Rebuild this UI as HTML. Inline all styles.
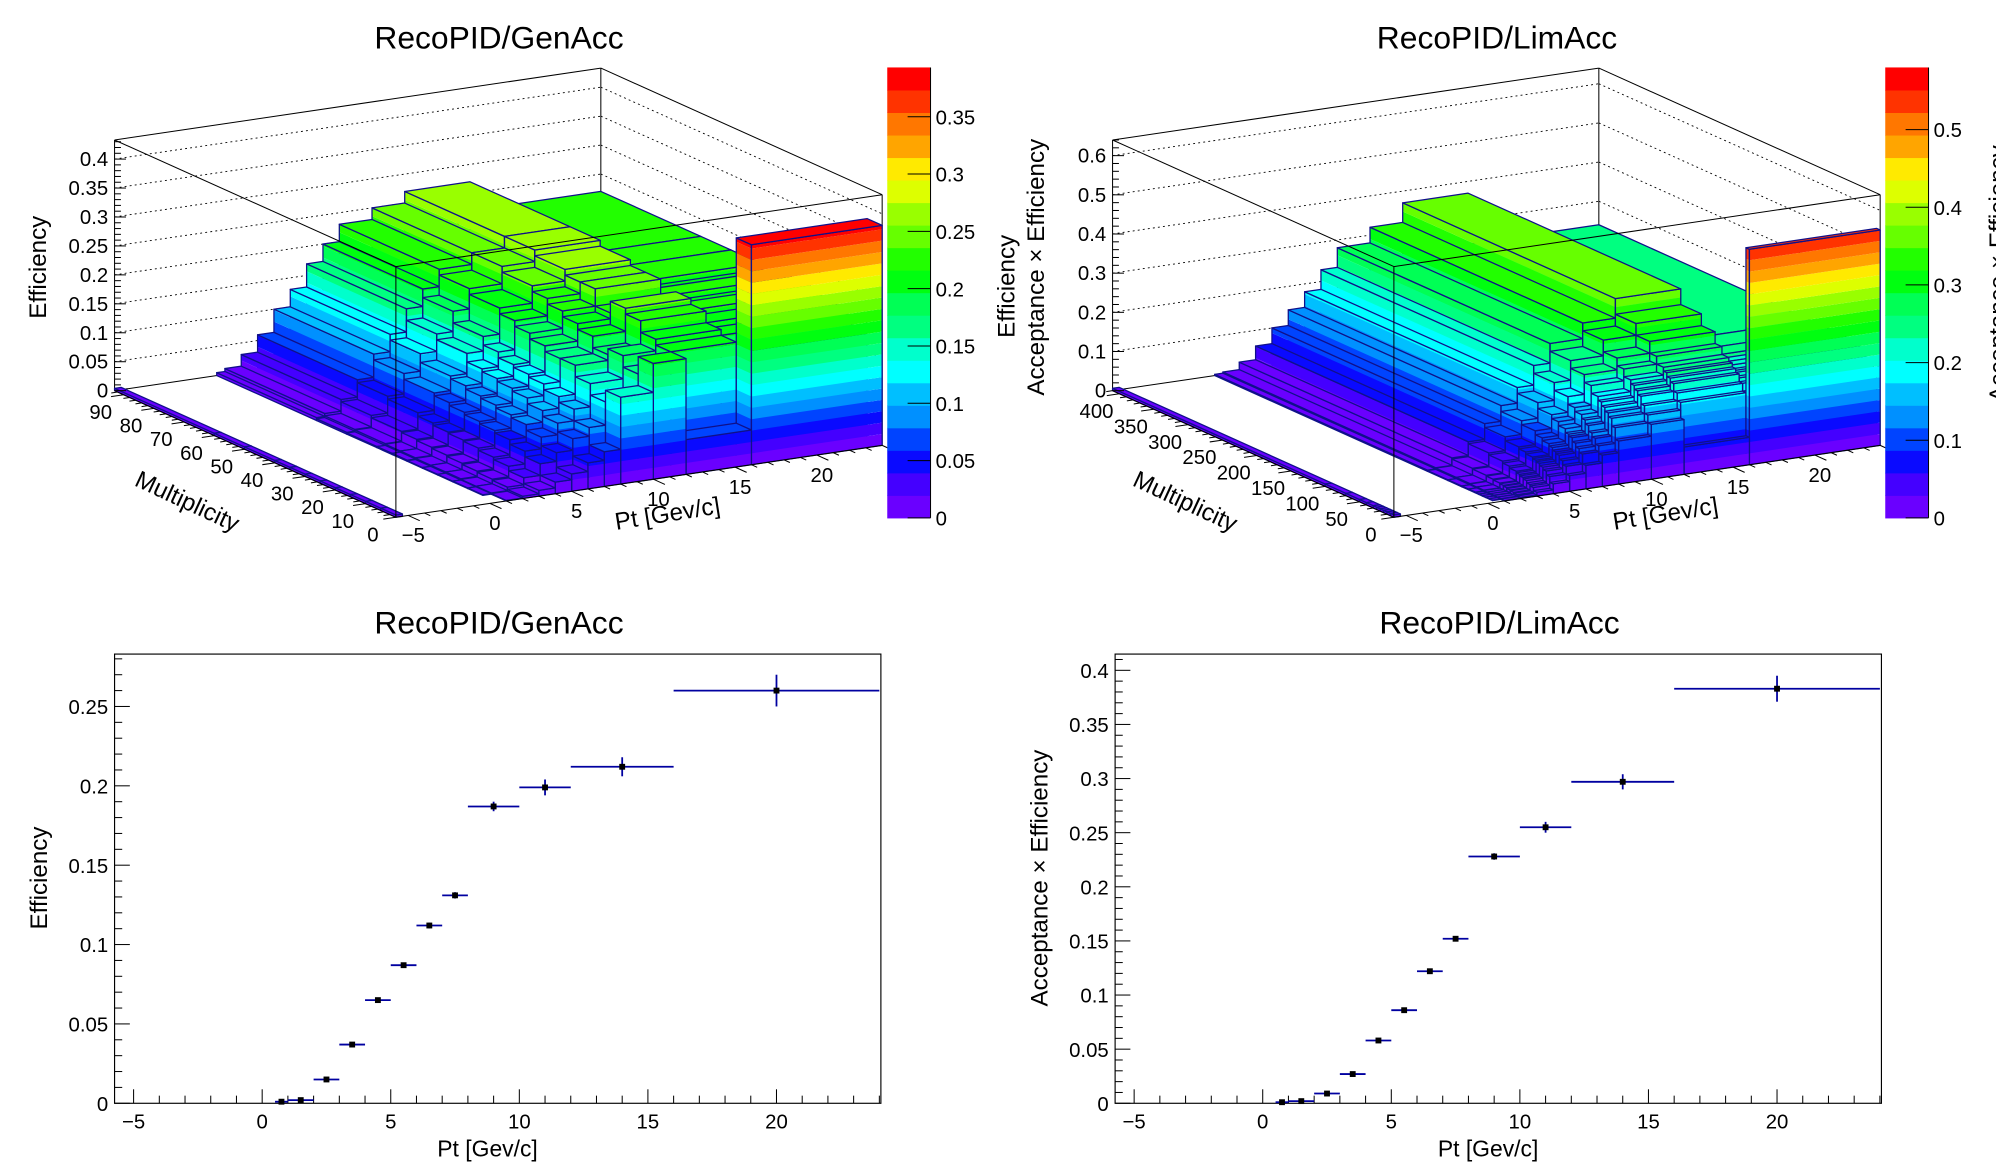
<!DOCTYPE html>
<html><head><meta charset="utf-8"><title>RecoPID efficiency</title>
<style>
html,body{margin:0;padding:0;background:#fff;}
svg{display:block;}
text{font-family:"Liberation Sans",Arial,sans-serif;fill:#000;}
</style></head>
<body>
<svg id="canvas" width="1996" height="1172" viewBox="0 0 1568 921" preserveAspectRatio="none" xmlns="http://www.w3.org/2000/svg">
<rect x="0" y="0" width="1568" height="921" fill="#fff"/>
<g id="pad-tl"></g>
<g id="pad-tr"></g>
<g id="pad-bl"></g>
<g id="pad-br"></g>
</svg>
<script>
// ---------------- data ----------------
const ptEdges3D = [-5.75,-5.35,0.5,1,2,3,4,5,6,7,8,10,12,16,24];
const multEdgesGen = [0,5,10,15,20,25,30,35,40,50,60,93];
const effGen = [
 [0.004,0,0.000,0.001,0.004,0.010,0.020,0.030,0.045,0.060,0.150,0.200,0.060,0.380],
 [0.004,0,0.001,0.002,0.008,0.020,0.040,0.055,0.075,0.090,0.130,0.170,0.200,0.180],
 [0.004,0,0.001,0.002,0.010,0.028,0.050,0.070,0.090,0.110,0.150,0.190,0.210,0.200],
 [0.004,0,0.001,0.003,0.012,0.032,0.058,0.080,0.100,0.120,0.170,0.180,0.230,0.210],
 [0.004,0,0.001,0.003,0.014,0.036,0.062,0.085,0.110,0.130,0.170,0.200,0.240,0.220],
 [0.004,0,0.001,0.003,0.016,0.038,0.066,0.090,0.115,0.135,0.180,0.210,0.220,0.210],
 [0.004,0,0.002,0.004,0.018,0.040,0.070,0.094,0.120,0.140,0.190,0.220,0.250,0.220],
 [0.004,0,0.002,0.004,0.020,0.044,0.075,0.100,0.125,0.150,0.200,0.230,0.250,0.210],
 [0.004,0,0.002,0.005,0.022,0.050,0.080,0.105,0.140,0.165,0.210,0.240,0.260,0.220],
 [0.004,0,0.003,0.006,0.026,0.055,0.090,0.120,0.150,0.185,0.220,0.250,0.270,0.220],
 [0.004,0,0.005,0.010,0.030,0.060,0.100,0.130,0.170,0.200,0.230,0.250,0.270,0.220]
];
const multEdgesLim = [0,5,10,15,20,25,30,40,50,70,100,410];
const effLim = [
 [0.006,0,0.000,0.001,0.003,0.010,0.025,0.040,0.060,0.080,0.110,0.140,0.070,0.550],
 [0.006,0,0.001,0.002,0.006,0.018,0.040,0.060,0.085,0.100,0.140,0.160,0.180,0.180],
 [0.006,0,0.001,0.002,0.008,0.022,0.050,0.070,0.095,0.115,0.160,0.180,0.200,0.200],
 [0.006,0,0.001,0.003,0.010,0.028,0.056,0.080,0.105,0.125,0.170,0.200,0.220,0.210],
 [0.006,0,0.001,0.003,0.012,0.032,0.062,0.085,0.115,0.140,0.180,0.210,0.230,0.220],
 [0.006,0,0.001,0.003,0.014,0.036,0.066,0.092,0.120,0.150,0.190,0.220,0.240,0.220],
 [0.006,0,0.002,0.004,0.016,0.040,0.070,0.098,0.130,0.160,0.200,0.230,0.250,0.230],
 [0.006,0,0.002,0.004,0.018,0.045,0.075,0.105,0.140,0.170,0.220,0.250,0.270,0.230],
 [0.006,0,0.002,0.005,0.020,0.050,0.080,0.115,0.150,0.190,0.240,0.270,0.300,0.240],
 [0.006,0,0.002,0.005,0.022,0.055,0.090,0.125,0.165,0.210,0.260,0.300,0.330,0.240],
 [0.006,0,0.003,0.006,0.025,0.060,0.100,0.140,0.180,0.230,0.280,0.320,0.370,0.240]
];
const ptBinLow = [0.5,1,2,3,4,5,6,7,8,10,12,16];
const ptBinHigh = [1,2,3,4,5,6,7,8,10,12,16,24];
const effGen1D = [0.001,0.002,0.015,0.037,0.065,0.087,0.112,0.131,0.187,0.199,0.212,0.260];
const errGen1D = [0.0005,0.0007,0.0008,0.001,0.0012,0.0015,0.0018,0.002,0.003,0.005,0.006,0.010];
const effLim1D = [0.001,0.002,0.009,0.027,0.058,0.086,0.122,0.152,0.228,0.255,0.297,0.383];
const errLim1D = [0.0005,0.0007,0.0009,0.0012,0.0015,0.0018,0.002,0.0025,0.003,0.005,0.007,0.012];
const ptTickLabels = [-5,0,5,10,15,20];
const palette = ["#6a00ff","#4400ff","#0a0aff","#0044ff","#0090ff","#00bfff","#00ffff","#00ffcc","#00ff80","#00ff55","#00ff10","#22ff00","#66ff00","#99ff00","#ddff00","#ffea00","#ffa500","#ff7700","#ff3300","#ff0000"];

// ---------------- helpers ----------------
const NS = "http://www.w3.org/2000/svg";
function add(parent, tag, attrs, name, inter) {
  const el = document.createElementNS(NS, tag);
  for (const k in attrs) el.setAttribute(k, attrs[k]);
  
  
  parent.appendChild(el);
  return el;
}
function txt(parent, x, y, s, size, anchor, name, rot) {
  const a = {x:x, y:y, 'font-size':size, 'text-anchor':anchor||'start'};
  if (rot) a.transform = 'rotate(' + rot + ' ' + x + ' ' + y + ')';
  const t = add(parent, 'text', a, name, false);
  t.textContent = s;
  return t;
}
function fmt(v) {
  if (v < 0) return '\u2212' + fmt(-v);
  return (+v.toFixed(3)).toString();
}
function poly(parent, pts, attrs, name) {
  const a = Object.assign({points: pts.map(p => p[0].toFixed(2) + ',' + p[1].toFixed(2)).join(' ')}, attrs);
  return add(parent, 'polygon', a, name, false);
}
function line(parent, p, q, attrs, name) {
  const a = Object.assign({x1:p[0], y1:p[1], x2:q[0], y2:q[1], stroke:'#000', 'stroke-width':0.8}, attrs);
  return add(parent, 'line', a, name, false);
}

// ---------------- 3D lego ----------------
function drawLego(g, c) {
  const ptMin = c.ptMin, ptMax = c.ptMax;
  function P(pt, m, z) {
    const t = (pt - ptMin) / (ptMax - ptMin), u = m / c.mMax;
    return [c.F[0] + t*(c.R[0]-c.F[0]) + u*(c.L[0]-c.F[0]),
            c.F[1] + t*(c.R[1]-c.F[1]) + u*(c.L[1]-c.F[1]) - z / c.zMax * c.H];
  }
  const step = c.palMax / palette.length;
  const colorOf = z => palette[Math.min(palette.length-1, Math.max(0, Math.floor(z/step)))];
  const back = add(g, 'g', {}, 'back-walls', false);
  line(back, P(ptMin,c.mMax,0), P(ptMin,c.mMax,c.zMax), {}, 'box-edge');
  line(back, P(ptMax,c.mMax,0), P(ptMax,c.mMax,c.zMax), {}, 'box-edge');
  line(back, P(ptMax,0,0), P(ptMax,0,c.zMax), {}, 'box-edge');
  line(back, P(ptMin,c.mMax,c.zMax), P(ptMax,c.mMax,c.zMax), {}, 'box-edge');
  line(back, P(ptMax,c.mMax,c.zMax), P(ptMax,0,c.zMax), {}, 'box-edge');
  line(back, P(ptMin,c.mMax,0), P(ptMax,c.mMax,0), {}, 'box-edge');
  line(back, P(ptMax,c.mMax,0), P(ptMax,0,0), {}, 'box-edge');
  for (let z = c.zStep; z <= c.zMax + 1e-9; z += c.zStep) {
    line(back, P(ptMin,c.mMax,z), P(ptMax,c.mMax,z), {'stroke-dasharray':'1.5,2.5','stroke-width':0.7}, 'grid-line');
    line(back, P(ptMax,c.mMax,z), P(ptMax,0,z), {'stroke-dasharray':'1.5,2.5','stroke-width':0.7}, 'grid-line');
  }
  const bars = add(g, 'g', {}, 'lego-bars', false);
  const E = c.ptEdges, M = c.mEdges;
  for (let j = M.length - 2; j >= 0; j--) {
    for (let i = E.length - 2; i >= 0; i--) {
      const z = c.data[j][i];
      if (!(z > 0)) continue;
      const p0 = E[i], p1 = E[i+1], m0 = M[j], m1 = M[j+1];
      const blk = add(bars, 'g', {}, 'lego-bin-pt' + i + '-mult' + j, false);
      for (let k = 0; k < palette.length; k++) {
        const lo = k*step; if (lo >= z) break;
        const hi = Math.min((k+1)*step, z);
        poly(blk, [P(p0,m0,lo),P(p1,m0,lo),P(p1,m0,hi),P(p0,m0,hi)], {fill:palette[k]}, 'front-face-band');
        poly(blk, [P(p0,m0,lo),P(p0,m1,lo),P(p0,m1,hi),P(p0,m0,hi)], {fill:palette[k]}, 'side-face-band');
      }
      const ol = {fill:'none', stroke:'#10108a', 'stroke-width':1, 'stroke-linejoin':'round'};
      poly(blk, [P(p0,m0,0),P(p1,m0,0),P(p1,m0,z),P(p0,m0,z)], ol, 'front-face-outline');
      poly(blk, [P(p0,m0,0),P(p0,m1,0),P(p0,m1,z),P(p0,m0,z)], ol, 'side-face-outline');
      poly(blk, [P(p0,m0,z),P(p1,m0,z),P(p1,m1,z),P(p0,m1,z)], Object.assign({}, ol, {fill:colorOf(z)}), 'top-face');
    }
  }
  const fr = add(g, 'g', {}, 'front-box', false);
  line(fr, P(ptMin,0,0), P(ptMin,0,c.zMax), {}, 'box-edge');
  line(fr, P(ptMin,c.mMax,c.zMax), P(ptMin,0,c.zMax), {}, 'box-edge');
  line(fr, P(ptMin,0,c.zMax), P(ptMax,0,c.zMax), {}, 'box-edge');
  line(fr, P(ptMin,0,0), P(ptMax,0,0), {}, 'pt-axis-line');
  line(fr, P(ptMin,0,0), P(ptMin,c.mMax,0), {}, 'mult-axis-line');
  const za = add(g, 'g', {}, 'z-axis', false);
  for (let z = 0; z <= c.zMax + 1e-9; z += c.zMinor) {
    const p = P(ptMin, c.mMax, z);
    const major = Math.abs(z/c.zStep - Math.round(z/c.zStep)) < 1e-6;
    line(za, p, [p[0]+(major?9:5), p[1]], {}, major ? 'z-major-tick' : 'z-minor-tick');
    if (major) txt(za, p[0]-5, p[1]+5.5, fmt(z), 16, 'end', 'z-tick-label');
  }
  const pa = add(g, 'g', {}, 'pt-axis', false);
  const dR = [c.F[0]-c.L[0], c.F[1]-c.L[1]], nR = Math.hypot(dR[0], dR[1]);
  for (let pt = -5; pt <= ptMax; pt += 1) {
    const p = P(pt, 0, 0);
    const major = pt % 5 === 0; const len = major ? 10 : 5;
    line(pa, p, [p[0]+dR[0]/nR*len, p[1]+dR[1]/nR*len], {}, major ? 'pt-major-tick' : 'pt-minor-tick');
  }
  ptTickLabels.forEach(v => { const p = P(v,0,0); txt(pa, p[0]+4, p[1]+21, fmt(v), 16, 'middle', 'pt-tick-label'); });
  const ptTitlePos = P(12.5, 0, 0);
  txt(pa, ptTitlePos[0]-20, ptTitlePos[1]+38, 'Pt [Gev/c]', 19, 'middle', 'pt-axis-title', -9);
  const ma = add(g, 'g', {}, 'mult-axis', false);
  const dP = [c.F[0]-c.R[0], c.F[1]-c.R[1]], nP = Math.hypot(dP[0], dP[1]);
  for (let m = 0; m <= c.mMax; m += c.mMinor) {
    const p = P(ptMin, m, 0);
    const major = Math.abs(m % c.mStep) < 1e-9; const len = major ? 10 : 5;
    line(ma, p, [p[0]+dP[0]/nP*len, p[1]+dP[1]/nP*len], {}, major ? 'mult-major-tick' : 'mult-minor-tick');
  }
  for (let m = 0; m <= c.mMax; m += c.mStep) {
    const p = P(ptMin, m, 0);
    txt(ma, p[0]-18, p[1]+19, fmt(m), 16, 'middle', 'mult-tick-label');
  }
  const mt = P(ptMin, c.mMax*0.55, 0);
  txt(ma, mt[0]-45, mt[1]+48, 'Multiplicity', 19, 'middle', 'mult-axis-title', 25);
  const pal = add(g, 'g', {}, 'color-palette', false);
  const pb = c.pal, ph = (pb.y1 - pb.y0) / palette.length;
  palette.forEach((col, k) => add(pal, 'rect', {x:pb.x0, y:pb.y1-(k+1)*ph, width:pb.x1-pb.x0, height:ph+0.4, fill:col}, 'palette-level', false));
  line(pal, [pb.x1, pb.y0], [pb.x1, pb.y1], {}, 'palette-axis');
  for (let v = 0; v <= c.palMax + 1e-9; v += c.palStep) {
    const y = pb.y1 - v / c.palMax * (pb.y1 - pb.y0);
    line(pal, [pb.x1-18, y], [pb.x1, y], {}, 'palette-tick');
    txt(pal, pb.x1+4, y+6, fmt(v), 16, 'start', 'palette-label');
  }
}

function drawTitle(g, x, y, s) { txt(g, x, y, s, 25, 'middle', 'plot-title'); }

const gTL = document.getElementById('pad-tl');
const gTR = document.getElementById('pad-tr');
drawTitle(gTL, 392, 38, 'RecoPID/GenAcc');
drawTitle(gTR, 1176, 38, 'RecoPID/LimAcc');
txt(gTL, 36, 210, 'Efficiency', 19, 'middle', 'z-axis-title', -90);
txt(gTR, 797, 225, 'Efficiency', 19, 'middle', 'z-axis-title', -90);
txt(gTR, 820, 210, 'Acceptance \u00d7 Efficiency', 19, 'middle', 'z-axis-title-2', -90);
txt(gTR, 1576, 215, 'Acceptance \u00d7 Efficiency', 19, 'middle', 'palette-title-clipped', -90);

drawLego(gTL, {F:[311,406.5], L:[90,307], R:[693,350], H:197, ptMin:-5.75, ptMax:24,
  mMax:93, mStep:10, mMinor:2, zMax:0.433, zStep:0.05, zMinor:0.01,
  palMax:0.393, palStep:0.05, pal:{x0:697,x1:731,y0:53,y1:407},
  ptEdges:ptEdges3D, mEdges:multEdgesGen, data:effGen});
drawLego(gTR, {F:[1095,406.5], L:[874,307], R:[1477,350], H:197, ptMin:-5.75, ptMax:24,
  mMax:410, mStep:50, mMinor:10, zMax:0.64, zStep:0.1, zMinor:0.02,
  palMax:0.58, palStep:0.1, pal:{x0:1481,x1:1515,y0:53,y1:407},
  ptEdges:ptEdges3D, mEdges:multEdgesLim, data:effLim});

// ---------------- 1D histograms ----------------
function drawHist(g, ox, title, ytitle, vals, errs, yMax, yStep, yMinor) {
  const x0 = 90+ox, x1 = 692+ox, y0 = 514, y1 = 867, xMin = -5.74, xMax = 24.06;
  const X = v => x0 + (v - xMin) / (xMax - xMin) * (x1 - x0);
  const Y = v => y1 - v / yMax * (y1 - y0);
  drawTitle(g, 392+ox, 498, title);
  add(g, 'rect', {x:x0, y:y0, width:x1-x0, height:y1-y0, fill:'none', stroke:'#000', 'stroke-width':0.9}, 'plot-frame', false);
  const ya = add(g, 'g', {}, 'y-axis', false);
  for (let v = 0; v <= yMax + 1e-9; v += yMinor) {
    const major = Math.abs(v/yStep - Math.round(v/yStep)) < 1e-6;
    line(ya, [x0, Y(v)], [x0 + (major?12:6), Y(v)], {}, major ? 'y-major-tick' : 'y-minor-tick');
    if (major) txt(ya, x0-5, Y(v)+6, fmt(v), 16, 'end', 'y-tick-label');
  }
  const xa = add(g, 'g', {}, 'x-axis', false);
  for (let v = -5; v <= xMax; v += 1) {
    const major = v % 5 === 0;
    line(xa, [X(v), y1], [X(v), y1 - (major?11:6)], {}, major ? 'x-major-tick' : 'x-minor-tick');
  }
  ptTickLabels.forEach(v => txt(xa, X(v), y1+20, fmt(v), 16, 'middle', 'x-tick-label'));
  txt(xa, 383+ox, 909, 'Pt [Gev/c]', 18, 'middle', 'x-axis-title');
  txt(ya, 37+ox, 690, ytitle, 19, 'middle', 'y-axis-title', -90);
  const s = add(g, 'g', {}, 'data-series', false);
  vals.forEach((v, i) => {
    const xc = (ptBinLow[i] + ptBinHigh[i]) / 2;
    const pt = add(s, 'g', {}, 'data-point', false);
    line(pt, [X(ptBinLow[i]), Y(v)], [X(ptBinHigh[i]), Y(v)], {stroke:'#0000a0','stroke-width':1.4}, 'x-error-bar');
    line(pt, [X(xc), Y(v+errs[i])], [X(xc), Y(Math.max(0, v-errs[i]))], {stroke:'#0000a0','stroke-width':1.4}, 'y-error-bar');
    add(pt, 'rect', {x:X(xc)-2.3, y:Y(v)-2.3, width:4.6, height:4.6, fill:'#000'}, 'marker', false);
  });
}
drawHist(document.getElementById('pad-bl'), 0, 'RecoPID/GenAcc', 'Efficiency', effGen1D, errGen1D, 0.283, 0.05, 0.01);
drawHist(document.getElementById('pad-br'), 786, 'RecoPID/LimAcc', 'Acceptance \u00d7 Efficiency', effLim1D, errLim1D, 0.415, 0.05, 0.01);
</script>
</body></html>
